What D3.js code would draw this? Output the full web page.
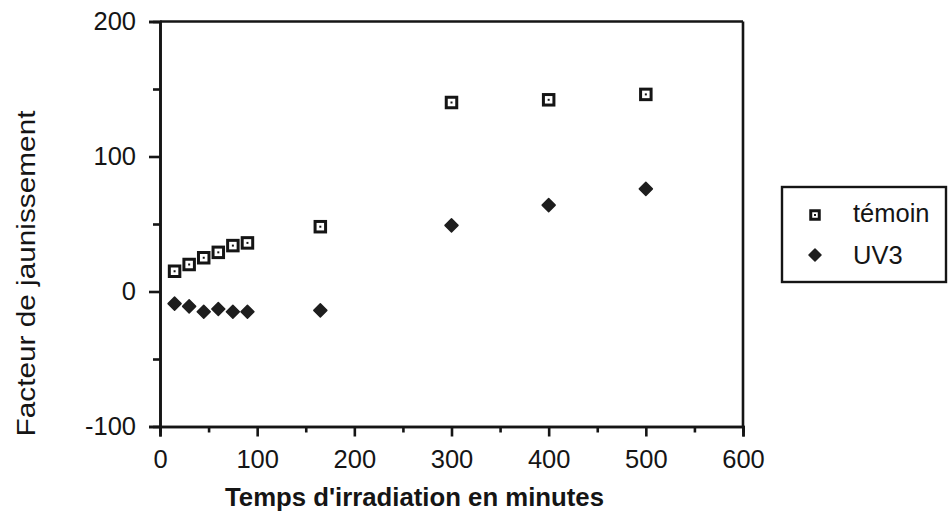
<!DOCTYPE html>
<html>
<head>
<meta charset="utf-8">
<script src="https://cdn.jsdelivr.net/npm/d3@7"></script>
<style>
  html, body { margin: 0; padding: 0; background: #fff; }
  svg { display: block; }
</style>
</head>
<body>
<svg id="chart" width="949" height="514"></svg>
<script>
// ---- Data ----
const times = [15, 30, 45, 60, 75, 90, 165, 300, 400, 500];
const temoinValues = [15, 20, 25, 29, 34, 36, 48, 140, 142, 146];
const uv3Values = [-9, -11, -15, -13, -15, -15, -14, 49, 64, 76];
const seriesNames = ["témoin", "UV3"];
const xMajorTicks = [0, 100, 200, 300, 400, 500, 600];
const xMinorTicks = [50, 150, 250, 350, 450, 550];
const yMajorTicks = [-100, 0, 100, 200];
const yMinorTicks = [-50, 50, 150];
const xTitle = "Temps d'irradiation en minutes";
const yTitle = "Facteur de jaunissement";

// ---- Layout ----
const svg = d3.select("#chart");
const ink = "#151515";
const x = d3.scaleLinear().domain([0, 600]).range([160, 743]);
const y = d3.scaleLinear().domain([-100, 200]).range([426.5, 21.5]);
const font = "'Liberation Sans', Arial, Helvetica, sans-serif";
const fmt = d => String(d); // plain hyphen for negatives

function styleAxis(g) {
  g.selectAll("path.domain").attr("stroke", ink).attr("stroke-width", 2.6);
  g.selectAll(".tick line").attr("stroke", ink).attr("stroke-width", 2.6);
  g.selectAll(".tick text").attr("fill", ink).style("font-family", font).style("font-size", "25.5px");
}

// frame (top and right)
svg.append("line").attr("x1", x(0)).attr("x2", x(600)).attr("y1", y(200)).attr("y2", y(200))
  .attr("stroke", ink).attr("stroke-width", 2.6);
svg.append("line").attr("x1", x(600)).attr("x2", x(600)).attr("y1", y(200)).attr("y2", y(-100))
  .attr("stroke", ink).attr("stroke-width", 2.6);

// y axis minor
svg.append("g").attr("transform", `translate(${x(0)},0)`)
  .call(d3.axisLeft(y).tickValues(yMinorTicks).tickSize(7).tickFormat(""))
  .call(styleAxis);
// y axis major
svg.append("g").attr("transform", `translate(${x(0)},0)`)
  .call(d3.axisLeft(y).tickValues(yMajorTicks).tickSize(11).tickPadding(13).tickFormat(fmt))
  .call(styleAxis);
// x axis minor
svg.append("g").attr("transform", `translate(0,${y(-100)})`)
  .call(d3.axisBottom(x).tickValues(xMinorTicks).tickSize(6).tickFormat(""))
  .call(styleAxis);
// x axis major
svg.append("g").attr("transform", `translate(0,${y(-100)})`)
  .call(d3.axisBottom(x).tickValues(xMajorTicks).tickSize(10).tickPadding(13).tickFormat(fmt))
  .call(styleAxis);

// axis titles
svg.append("text")
  .attr("x", 414.5).attr("y", 506)
  .attr("text-anchor", "middle")
  .attr("fill", ink)
  .style("font-family", font).style("font-weight", "bold").style("font-size", "25.5px")
  .attr("textLength", 379).attr("lengthAdjust", "spacingAndGlyphs")
  .text(xTitle);

svg.append("text")
  .attr("transform", "translate(35,273.5) rotate(-90)")
  .attr("text-anchor", "middle")
  .attr("fill", ink)
  .style("font-family", font).style("font-size", "26px")
  .attr("textLength", 326).attr("lengthAdjust", "spacingAndGlyphs")
  .text(yTitle);

// ---- Markers ----
function drawSquare(g, cx, cy, s) {
  g.append("rect").attr("x", cx - s / 2).attr("y", cy - s / 2).attr("width", s).attr("height", s)
    .attr("fill", "#fff").attr("stroke", ink).attr("stroke-width", 3);
  g.append("rect").attr("x", cx - 1).attr("y", cy - 1).attr("width", 2).attr("height", 2).attr("fill", ink);
}
function drawDiamond(g, cx, cy, r) {
  g.append("path")
    .attr("d", `M${cx},${cy - r}L${cx + r},${cy}L${cx},${cy + r}L${cx - r},${cy}Z`)
    .attr("fill", "#1e1e1e").attr("stroke", "#1e1e1e").attr("stroke-width", 1.5)
    .attr("stroke-linejoin", "round");
}

const temoinData = times.map((t, i) => ({ t, v: temoinValues[i] }));
const uvData = times.map((t, i) => ({ t, v: uv3Values[i] }));

const gS = svg.append("g");
temoinData.forEach(d => drawSquare(gS, x(d.t), y(d.v), 10.5));
const gD = svg.append("g");
uvData.forEach(d => drawDiamond(gD, x(d.t), y(d.v), 6.5));

// ---- Legend ----
const leg = svg.append("g");
leg.append("rect").attr("x", 782).attr("y", 187).attr("width", 164).attr("height", 95)
  .attr("fill", "#fff").attr("stroke", ink).attr("stroke-width", 2.4);
drawSquare(leg, 815, 215, 8.5);
drawDiamond(leg, 815, 255, 6);
leg.append("text").attr("x", 853).attr("y", 222)
  .attr("fill", ink).style("font-family", font).style("font-size", "25.5px")
  .text(seriesNames[0]);
leg.append("text").attr("x", 853).attr("y", 264)
  .attr("fill", ink).style("font-family", font).style("font-size", "25.5px")
  .text(seriesNames[1]);
</script>
</body>
</html>
